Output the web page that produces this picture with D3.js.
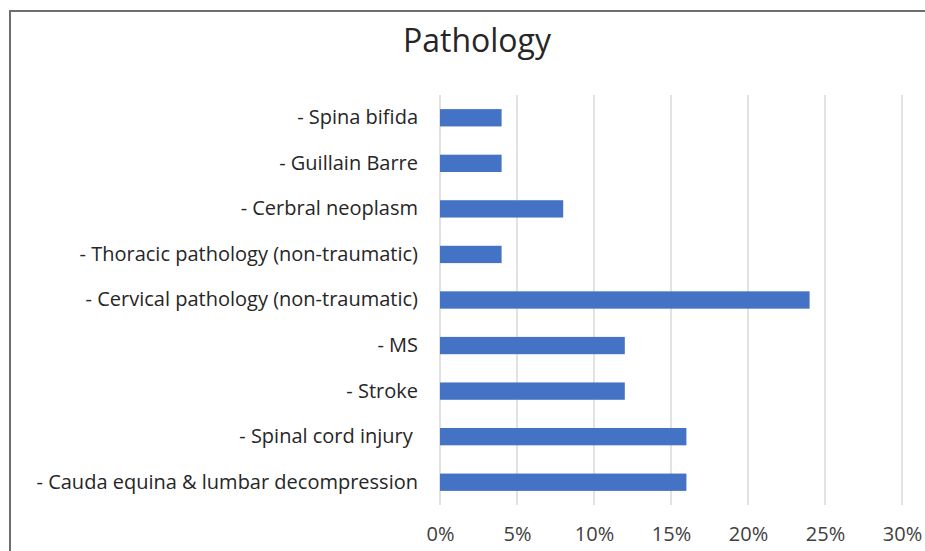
<!DOCTYPE html>
<html><head><meta charset="utf-8">
<script src="https://cdn.jsdelivr.net/npm/d3@7"></script>
<style>body{margin:0;background:#fff}svg{display:block}text{white-space:pre}</style>
</head><body>
<svg id="c" width="925" height="551"></svg>
<script>
const categories = ["- Spina bifida","- Guillain Barre","- Cerbral neoplasm","- Thoracic pathology (non-traumatic)","- Cervical pathology (non-traumatic)","- MS","- Stroke","- Spinal cord injury ","- Cauda equina & lumbar decompression"];
const values = [0.04,0.04,0.08,0.04,0.24,0.12,0.12,0.16,0.16];
const ticks = [0,0.05,0.10,0.15,0.20,0.25,0.30];
const title = "Pathology";

const svg = d3.select("#c");
const font = "'Open Sans', sans-serif";
svg.append("rect").attr("x",10).attr("y",11).attr("width",1000).attr("height",1000)
  .attr("fill","#fff").attr("stroke","#6e6e6e").attr("stroke-width",2);

const x = d3.scaleLinear().domain([0,0.30]).range([440,902]);
const y = d3.scaleBand().domain(categories).range([95,505]).paddingInner(0.62).paddingOuter(0.31);

svg.append("g").selectAll("line").data(ticks).join("line")
  .attr("x1",d=>x(d)).attr("x2",d=>x(d)).attr("y1",95).attr("y2",505)
  .attr("stroke","#d9d9d9").attr("stroke-width",1.5);

svg.append("g").selectAll("rect").data(values).join("rect")
  .attr("x",x(0)).attr("y",(d,i)=>y(categories[i]))
  .attr("width",d=>x(d)-x(0)).attr("height",y.bandwidth()).attr("fill","#4472C4");

const xa = svg.append("g").attr("transform","translate(0,505)")
  .call(d3.axisBottom(x).tickValues(ticks).tickFormat(d3.format(".0%")).tickSize(0).tickPadding(22));
xa.select(".domain").remove();
xa.selectAll("text").attr("font-family",font).attr("font-size",20).attr("fill","#404040");

const ya = svg.append("g").attr("transform","translate(418,0)")
  .call(d3.axisLeft(y).tickSize(0).tickPadding(0));
ya.select(".domain").remove();
ya.selectAll("text").attr("font-family",font).attr("font-size",20).attr("fill","#262626");

svg.append("text").attr("x",477).attr("y",52).attr("text-anchor","middle")
  .attr("font-family",font).attr("font-size",32).attr("fill","#262626").text(title);
</script>
</body></html>
